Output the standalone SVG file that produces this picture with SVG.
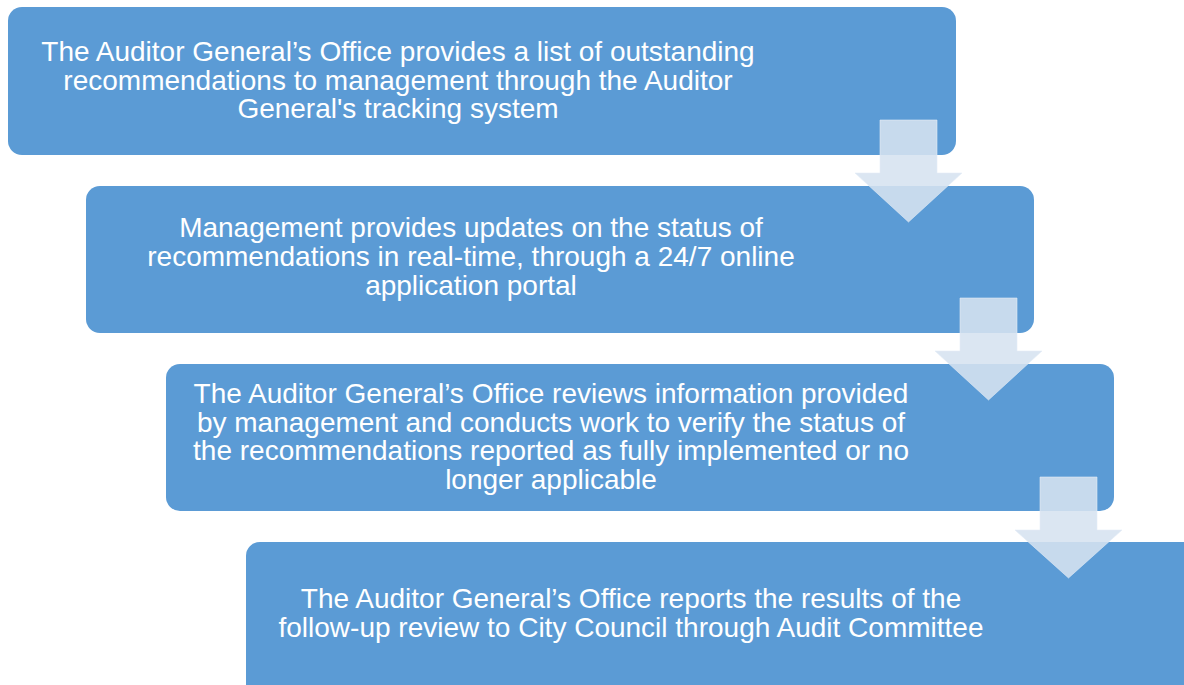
<svg xmlns="http://www.w3.org/2000/svg" width="1184" height="685" viewBox="0 0 1184 685">
<style>
.box{fill:#5b9bd5;}
.t{font-family:"Liberation Sans",Arial,sans-serif;font-size:28px;fill:#ffffff;text-anchor:middle;}
.arr{fill:#d6e2f0;fill-opacity:0.88;stroke:#e4ecf6;stroke-opacity:0.6;stroke-width:1;}
</style>
<rect width="1184" height="685" fill="#ffffff"/>
<g id="step1">
<rect class="box" x="8" y="7" width="948" height="148" rx="14"/>
<text class="t"><tspan x="398" y="61">The Auditor General’s Office provides a list of outstanding</tspan><tspan x="398" y="90">recommendations to management through the Auditor</tspan><tspan x="398" y="118">General's tracking system</tspan></text>
</g>
<g id="step2">
<rect class="box" x="86" y="186" width="948" height="147" rx="14"/>
<text class="t"><tspan x="471" y="237">Management provides updates on the status of</tspan><tspan x="471" y="266">recommendations in real-time, through a 24/7 online</tspan><tspan x="471" y="295">application portal</tspan></text>
</g>
<g id="step3">
<rect class="box" x="166" y="364" width="948" height="147" rx="14"/>
<text class="t"><tspan x="551" y="403">The Auditor General’s Office reviews information provided</tspan><tspan x="551" y="432">by management and conducts work to verify the status of</tspan><tspan x="551" y="460">the recommendations reported as fully implemented or no</tspan><tspan x="551" y="489">longer applicable</tspan></text>
</g>
<g id="step4">
<rect class="box" x="246" y="542" width="968" height="170" rx="14"/>
<text class="t"><tspan x="631" y="608">The Auditor General’s Office reports the results of the</tspan><tspan x="631" y="637">follow-up review to City Council through Audit Committee</tspan></text>
</g>
<g id="connectors">
<polygon class="arr" points="880,120 937,120 937,173 962,173 908.5,222 855,173 880,173"/>
<polygon class="arr" points="960,298 1017,298 1017,351 1042,351 988.5,400 935,351 960,351"/>
<polygon class="arr" points="1040,477 1097,477 1097,530 1122,530 1068.5,578 1015,530 1040,530"/>
</g>
</svg>
